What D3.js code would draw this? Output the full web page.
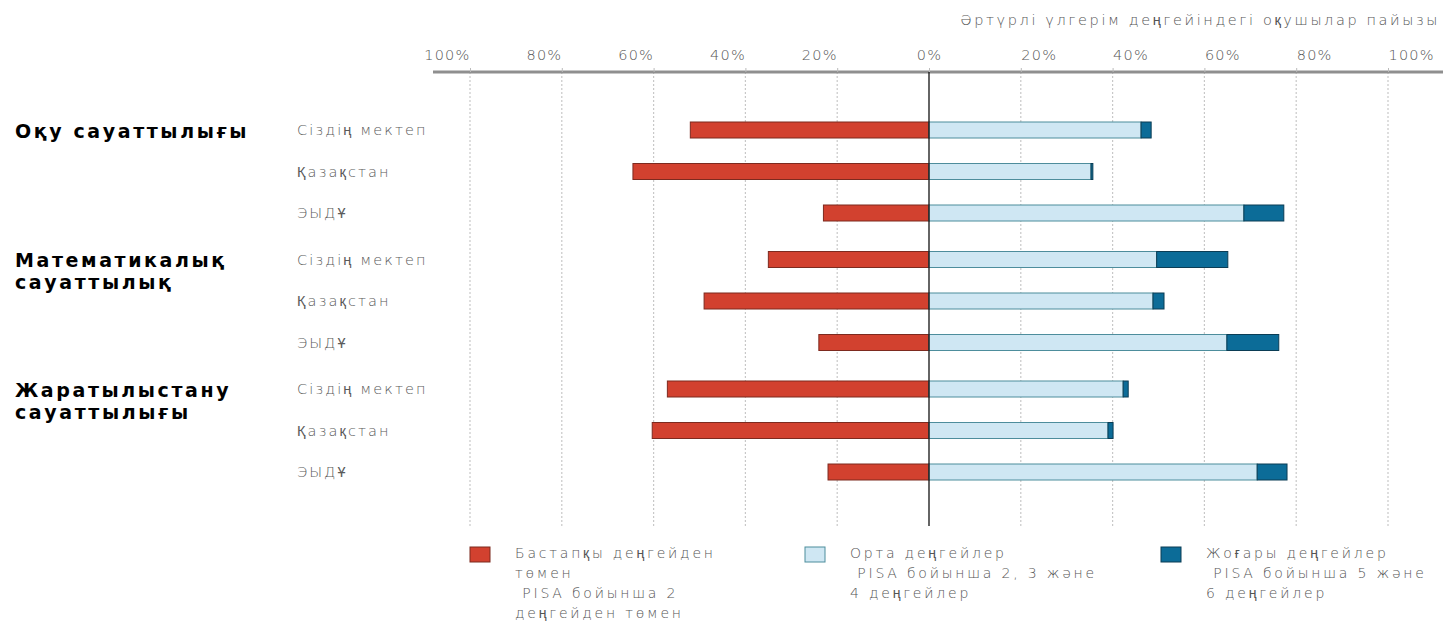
<!DOCTYPE html>
<html>
<head>
<meta charset="utf-8">
<script src="https://cdn.jsdelivr.net/npm/d3@7"></script>
<style>
  html, body { margin: 0; padding: 0; background: #fff; }
  svg { display: block; }
</style>
</head>
<body>
<svg id="chart" width="1443" height="621"></svg>
<script>
// ---- data ----
const groups = ["Оқу сауаттылығы", "Математикалық сауаттылық", "Жаратылыстану сауаттылығы"];
const groupLines = [["Оқу сауаттылығы"], ["Математикалық", "сауаттылық"], ["Жаратылыстану", "сауаттылығы"]];
const categories = ["Сіздің мектеп", "Қазақстан", "ЭЫДҰ"];
// row order: group 1 (3 rows), group 2, group 3
const lowValues  = [52, 64.5, 23, 35, 49, 24, 57, 60.3, 22];
const midValues  = [46.2, 35.3, 68.6, 49.6, 48.8, 64.9, 42.3, 39, 71.5];
const highValues = [2.2, 0.4, 8.7, 15.5, 2.4, 11.3, 1.1, 1.1, 6.5];
const tickValues = [-100, -80, -60, -40, -20, 0, 20, 40, 60, 80, 100];
const tickLabels = ["100%", "80%", "60%", "40%", "20%", "0%", "20%", "40%", "60%", "80%", "100%"];
const axisTitle = "Әртүрлі үлгерім деңгейіндегі оқушылар пайызы";
const legendItems = [
  { key: "low",  lines: ["Бастапқы деңгейден", "төмен", " PISA бойынша 2", "деңгейден төмен"] },
  { key: "mid",  lines: ["Орта деңгейлер", " PISA бойынша 2, 3 және", "4 деңгейлер"] },
  { key: "high", lines: ["Жоғары деңгейлер", " PISA бойынша 5 және", "6 деңгейлер"] }
];

// ---- styles ----
const colors = { low: "#d2412f", mid: "#cfe7f3", high: "#0c6c98" };
const strokes = { low: "#7d2a1f", mid: "#4d8d9c", high: "#0b3d55" };
const lightFont = "'DejaVu Sans', sans-serif";

const rows = [];
groups.forEach((g, gi) => categories.forEach((c, ci) => {
  const i = gi * categories.length + ci;
  rows.push({ group: g, cat: c, low: lowValues[i], mid: midValues[i], high: highValues[i] });
}));

const svg = d3.select("#chart");
const x = d3.scaleLinear().domain([-100, 100]).range([470, 1388]);
const yGroup = d3.scalePoint().domain(groups).range([171.5, 430.5]);
const yInner = d3.scalePoint().domain(categories).range([-41.5, 41.5]);
const yRow = d => yGroup(d.group) + yInner(d.cat);
const barH = 16;
const gridTop = 72, gridBottom = 526;

// grid lines
svg.append("g").selectAll("line")
  .data(tickValues.filter(v => v !== 0))
  .join("line")
  .attr("x1", d => x(d)).attr("x2", d => x(d))
  .attr("y1", gridTop).attr("y2", gridBottom)
  .attr("stroke", "#c8c8c8").attr("stroke-width", 1.2)
  .attr("stroke-dasharray", "2,2");

// axis line
svg.append("line").attr("x1", 433).attr("x2", 1443)
  .attr("y1", gridTop).attr("y2", gridTop)
  .attr("stroke", "#8f8f8f").attr("stroke-width", 3);

// axis with d3
const axis = d3.axisTop(x).tickValues(tickValues)
  .tickFormat((d, i) => tickLabels[i]).tickSize(4).tickPadding(10);
const axG = svg.append("g").attr("transform", `translate(0,${gridTop})`).call(axis);
axG.select(".domain").remove();
axG.selectAll(".tick line").attr("stroke", "#bbb");
axG.selectAll(".tick text")
  .attr("font-family", lightFont)
  .attr("font-weight", 300)
  .attr("font-size", 14.5)
  .attr("letter-spacing", 1.2)
  .attr("fill", "#555")
  .attr("text-anchor", d => d < 0 ? "end" : d > 0 ? "start" : "middle")
  .attr("y", -12);

// axis title
svg.append("text").attr("x", 1440).attr("y", 25)
  .attr("text-anchor", "end")
  .attr("font-family", lightFont)
  .attr("font-weight", 300)
  .attr("font-size", 14.5).attr("fill", "#555")
  .attr("letter-spacing", 2.6)
  .text(axisTitle);

// bars
const bars = svg.append("g");
bars.selectAll("rect.low").data(rows).join("rect").attr("class", "low")
  .attr("x", d => x(-d.low)).attr("width", d => x(0) - x(-d.low))
  .attr("y", d => yRow(d) - barH / 2).attr("height", barH)
  .attr("fill", colors.low).attr("stroke", strokes.low).attr("stroke-width", 1);
bars.selectAll("rect.mid").data(rows).join("rect").attr("class", "mid")
  .attr("x", x(0)).attr("width", d => x(d.mid) - x(0))
  .attr("y", d => yRow(d) - barH / 2).attr("height", barH)
  .attr("fill", colors.mid).attr("stroke", strokes.mid).attr("stroke-width", 1);
bars.selectAll("rect.high").data(rows).join("rect").attr("class", "high")
  .attr("x", d => x(d.mid)).attr("width", d => x(d.mid + d.high) - x(d.mid))
  .attr("y", d => yRow(d) - barH / 2).attr("height", barH)
  .attr("fill", colors.high).attr("stroke", strokes.high).attr("stroke-width", 1);

// zero line
svg.append("line").attr("x1", x(0)).attr("x2", x(0))
  .attr("y1", gridTop).attr("y2", gridBottom)
  .attr("stroke", "#111").attr("stroke-width", 1.3);

// category labels
svg.append("g").selectAll("text").data(rows).join("text")
  .attr("x", 297).attr("y", d => yRow(d)).attr("dy", "0.35em")
  .attr("font-family", lightFont)
  .attr("font-weight", 300)
  .attr("font-size", 14.5).attr("fill", "#5a5a5a")
  .attr("letter-spacing", 2.1)
  .text(d => d.cat);

// group labels
groups.forEach((g, gi) => {
  const t = svg.append("text")
    .attr("x", 15).attr("y", yGroup(g) - 41.5)
    .attr("font-family", "'DejaVu Sans', sans-serif")
    .attr("font-weight", "bold")
    .attr("font-size", 19).attr("fill", "#000")
    .attr("letter-spacing", 2.6);
  groupLines[gi].forEach((ln, li) => {
    t.append("tspan").attr("x", 15).attr("dy", li === 0 ? "0.4em" : 22).text(ln);
  });
});

// legend
const legendX = [470, 805, 1161];
const lg = svg.append("g");
legendItems.forEach((it, i) => {
  lg.append("rect").attr("x", legendX[i]).attr("y", 547).attr("width", 20).attr("height", 15)
    .attr("fill", colors[it.key]).attr("stroke", strokes[it.key]).attr("stroke-width", 1);
  const t = lg.append("text").attr("x", legendX[i] + 45).attr("y", 558)
    .attr("font-family", lightFont)
    .attr("font-weight", 300)
    .attr("font-size", 14).attr("fill", "#555")
    .attr("letter-spacing", 2.8);
  it.lines.forEach((ln, li) => {
    t.append("tspan").attr("x", legendX[i] + 45).attr("dy", li === 0 ? 0 : 20)
      .attr("xml:space", "preserve").text(ln);
  });
});
</script>
</body>
</html>
